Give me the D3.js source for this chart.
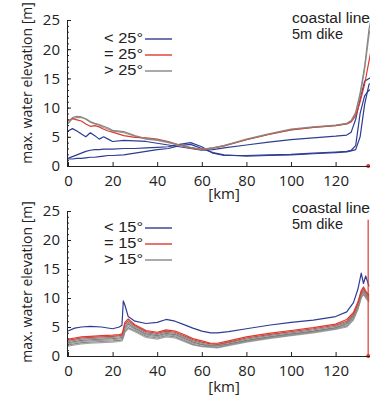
<!DOCTYPE html>
<html><head><meta charset="utf-8">
<script src="https://cdn.jsdelivr.net/npm/d3@7"></script>
<style>
html,body{margin:0;padding:0;background:#fff;}
svg{display:block;}
text{font-family:"Open Sans",sans-serif;fill:#222;}
</style></head>
<body>
<svg id="c" width="370" height="402"></svg>
<script>
// ---------- DATA ----------
const topKm = [0,2,4,6,8,10,12,14,16,18,20,25,30,35,40,45,50,55,60,65,70,80,90,100,110,120,125,127,129,131,133,135,137];
const topGrayA = [7.4,8.3,8.5,8.4,8.1,7.6,7.3,7.1,6.8,6.5,6.1,5.9,5.2,4.7,4.5,4.1,3.6,3.2,2.9,3.1,3.5,4.6,5.5,6.3,6.7,7.0,7.3,7.8,9.2,12.5,17,23.5,27];
const topGrayB = [7.2,8.1,8.3,8.3,8.0,7.5,7.2,7.0,6.6,6.3,6.0,5.7,5.1,4.6,4.4,4.0,3.5,3.1,2.8,3.0,3.4,4.5,5.4,6.2,6.6,6.9,7.2,7.6,9.0,12,16.5,22.5,26];
const topRed   = [7.8,8.1,7.9,7.7,7.2,6.8,6.9,6.7,6.3,6.0,5.8,5.2,4.9,4.8,4.6,4.2,3.6,3.1,2.8,3.1,3.5,4.5,5.4,6.2,6.6,6.9,7.2,7.6,8.6,11,14,18,22];
const topBlueA = [6.0,6.4,6.0,5.5,5.0,5.7,5.2,4.6,5.0,4.6,4.2,4.4,4.3,4.2,3.9,3.6,3.3,3.0,2.7,2.8,3.1,3.6,4.1,4.5,4.8,5.1,5.3,5.8,8.0,11.5,14.5,15,15.2];
const topBlueB = [1.3,1.6,1.9,2.2,2.5,2.7,2.8,2.8,2.9,2.9,2.9,3.0,3.0,3.1,3.2,3.3,3.7,4.0,3.3,2.2,1.8,1.8,1.9,2.0,2.2,2.4,2.5,2.7,3.5,9.0,12.0,13.0,13.0];
const topBlueC = [1.2,1.2,1.3,1.3,1.4,1.5,1.5,1.6,1.7,1.8,1.8,1.9,2.2,2.5,2.8,3.0,3.5,3.7,3.0,2.3,1.9,1.7,1.8,1.9,2.1,2.3,2.4,2.6,2.8,5.0,10.5,14.0,14.5];

const botKm = [0,3,6,10,15,20,23,24.2,24.8,25.5,27,30,35,40,44,48,52,56,60,64,67,72,80,90,100,110,120,125,128,130,131.5,132.5,133.5,135];
const botBlue  = [4.3,4.8,5.0,5.1,5.0,4.7,5.0,5.3,9.5,8.8,6.8,6.0,5.6,5.8,6.3,6.0,5.4,4.8,4.3,4.0,4.0,4.2,4.7,5.3,5.8,6.2,6.8,7.6,9.2,11.5,14.3,12.5,13.8,12.0];
const botRed1  = [2.9,3.1,3.3,3.4,3.5,3.6,3.7,3.8,4.6,5.8,6.4,5.4,4.4,4.1,4.5,4.3,3.7,3.0,2.6,2.2,2.2,2.6,3.3,3.9,4.4,4.9,5.5,6.3,7.5,9.3,11.3,11.9,11.2,10.5];
const botRed2  = [2.7,2.9,3.1,3.2,3.3,3.4,3.5,3.6,4.3,5.5,6.1,5.2,4.2,3.9,4.3,4.1,3.5,2.8,2.4,2.1,2.0,2.4,3.1,3.7,4.2,4.7,5.3,6.0,7.2,9.0,11.0,11.6,11.0,10.3];
const botGray1 = [2.5,2.7,2.9,3.0,3.1,3.2,3.3,3.4,4.0,5.2,5.8,5.0,4.0,3.7,4.1,3.9,3.3,2.6,2.2,1.9,1.9,2.3,2.9,3.5,4.0,4.5,5.1,5.8,7.0,8.8,10.8,11.4,10.8,10.1];
const botGray2 = [2.3,2.5,2.7,2.8,2.9,3.0,3.1,3.2,3.7,4.9,5.5,4.8,3.8,3.5,3.9,3.7,3.1,2.4,2.0,1.8,1.8,2.1,2.7,3.3,3.8,4.3,4.9,5.6,6.8,8.6,10.6,11.2,10.6,9.9];
const botGray3 = [2.1,2.3,2.5,2.6,2.7,2.8,2.9,3.0,3.5,4.6,5.2,4.6,3.6,3.3,3.7,3.5,2.9,2.2,1.9,1.7,1.7,2.0,2.6,3.2,3.7,4.2,4.8,5.4,6.6,8.4,10.4,11.0,10.4,9.7];
const botGray4 = [1.9,2.1,2.3,2.4,2.5,2.6,2.7,2.8,3.3,4.3,4.9,4.4,3.4,3.1,3.5,3.3,2.7,2.0,1.7,1.6,1.5,1.9,2.5,3.1,3.6,4.1,4.7,5.2,6.4,8.2,10.2,10.8,10.2,9.5];
const botGray5 = [1.7,1.9,2.1,2.2,2.3,2.4,2.5,2.6,3.1,4.1,4.7,4.2,3.2,2.9,3.3,3.1,2.5,1.9,1.6,1.5,1.4,1.8,2.4,3.0,3.5,4.0,4.6,5.0,6.2,8.0,10.0,10.6,10.0,9.3];

const xTicks = [0,20,40,60,80,100,120];
const yTicks = [0,5,10,15,20,25];
const topLegend = ["< 25°","= 25°","> 25°"];
const botLegend = ["< 15°","= 15°","> 15°"];
const noteLines = ["coastal line","5m dike"];
const coastKm = 134.6;

// ---------- DRAW ----------
const BLUE="#2e3d92", RED="#dd3a30", GRAY="#8b8580";
const svg = d3.select("#c");
const x = d3.scaleLinear().domain([0,140]).range([68, 68+140*2.23]);

function panel(y0, y25, series, legend, legendY, legendStep, noteY, axisTitleY, kmY, coastLine){
  const y = d3.scaleLinear().domain([0,25]).range([y0, y25]);
  const g = svg.append("g");
  const line = d3.line().x(d=>x(d[0])).y(d=>y(d[1]));
  series.forEach(s=>{
    g.append("path").datum(s.km.map((k,i)=>[k,s.v[i]]))
      .attr("d", line).attr("fill","none").attr("stroke", s.c).attr("stroke-width",1.2)
      .attr("stroke-linejoin","round");
  });
  if(coastLine){
    g.append("line").attr("x1",x(coastKm)).attr("x2",x(coastKm)).attr("y1",y(0)).attr("y2",y(23.5))
      .attr("stroke",RED).attr("stroke-width",1.2);
  }
  g.append("circle").attr("cx",x(coastKm)).attr("cy",y(0)).attr("r",2).attr("fill",RED);
  // axes
  const ya = d3.axisLeft(y).tickValues(yTicks).tickSizeInner(-4).tickSizeOuter(0).tickPadding(7);
  const yMinor = d3.axisLeft(y).tickValues(d3.range(0,26,1)).tickSizeInner(-2).tickSizeOuter(0).tickFormat("");
  const xa = d3.axisBottom(x).tickValues(xTicks).tickSizeInner(-4).tickSizeOuter(0).tickPadding(9);
  const gy = g.append("g").attr("transform",`translate(${x(0)-1},0)`).call(yMinor);
  const gy2 = g.append("g").attr("transform",`translate(${x(0)-1},0)`).call(ya);
  const gx = g.append("g").attr("transform",`translate(0,${y0})`).call(xa);
  [gy,gy2,gx].forEach(a=>{
    a.selectAll("path,line").attr("stroke","#222").attr("stroke-width",1);
    a.selectAll("text").style("font-family","'Open Sans',sans-serif").style("font-size","15px").attr("fill","#222");
  });
  g.append("text").attr("transform",`translate(32,${axisTitleY}) rotate(-90)`)
    .attr("text-anchor","middle").style("font-size","14px").text("max. water elevation [m]");
  g.append("text").attr("x",x(70)).attr("y",kmY).attr("text-anchor","middle").style("font-size","15px").text("[km]");
  // legend
  const cols=[BLUE,RED,GRAY];
  legend.forEach((t,i)=>{
    const ly = legendY + i*legendStep;
    g.append("text").attr("x",143).attr("y",ly+4).attr("text-anchor","end")
      .style("font-family","'Liberation Sans',sans-serif").style("font-size","14px")
      .attr("textLength",39).attr("lengthAdjust","spacingAndGlyphs").text(t);
    g.append("line").attr("x1",145).attr("x2",172).attr("y1",ly).attr("y2",ly).attr("stroke",cols[i]).attr("stroke-width",1.4);
  });
  const noteW=[78,51];
  noteLines.forEach((t,i)=>{
    g.append("text").attr("x",292).attr("y",noteY+i*16)
      .style("font-family","'Liberation Sans',sans-serif").style("font-size","14px")
      .attr("textLength",noteW[i]).attr("lengthAdjust","spacingAndGlyphs").text(t);
  });
}

panel(166, 20, [
  {km:topKm, v:topBlueC, c:BLUE},
  {km:topKm, v:topBlueB, c:BLUE},
  {km:topKm, v:topBlueA, c:BLUE},
  {km:topKm, v:topGrayB, c:"#9a9490"},
  {km:topKm, v:topRed, c:RED},
  {km:topKm, v:topGrayA, c:GRAY}
], topLegend, 39, 16, 23, 83, 199, false);

panel(356, 211, [
  {km:botKm, v:botGray5, c:"#a6a6a6"},
  {km:botKm, v:botGray4, c:"#8a8a8a"},
  {km:botKm, v:botGray3, c:"#9c9c9c"},
  {km:botKm, v:botGray2, c:"#7c7c7c"},
  {km:botKm, v:botGray1, c:"#909090"},
  {km:botKm, v:botRed2, c:"#c0504a"},
  {km:botKm, v:botRed1, c:RED},
  {km:botKm, v:botBlue, c:BLUE}
], botLegend, 228, 16, 213, 282, 392, true);
</script>
</body></html>
